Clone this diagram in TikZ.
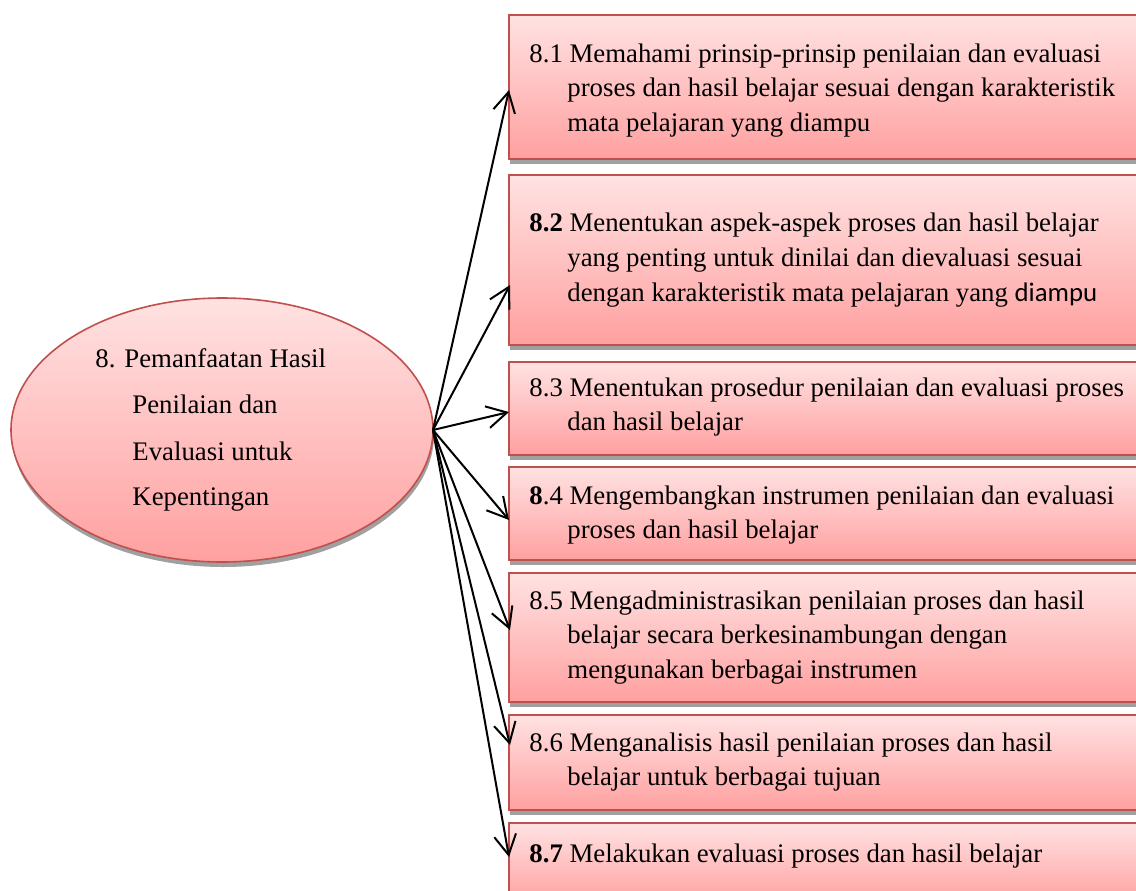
\documentclass[tikz,border=0pt]{standalone}
\usepackage{fontspec}
\setmainfont{Liberation Serif}
\newfontfamily\calib{Carlito}
\usetikzlibrary{shadows,arrows.meta,shapes.geometric}
\definecolor{bordc}{RGB}{192,80,77}
\definecolor{topc}{RGB}{255,226,226}
\definecolor{botc}{RGB}{255,160,160}
\definecolor{shc}{RGB}{160,160,160}
\tikzset{
  kbox/.style={rectangle, draw=bordc, line width=1pt, top color=topc, bottom color=botc,
    minimum width=320.5pt, inner sep=0pt,
    drop shadow={shadow xshift=0.5pt, shadow yshift=-2.5pt, fill=shc, opacity=1}},
  kell/.style={ellipse, draw=bordc, line width=0.8pt, top color=topc, bottom color=botc,
    minimum width=211pt, minimum height=132pt, inner sep=0pt,
    drop shadow={shadow xshift=0.5pt, shadow yshift=-2.5pt, fill=shc, opacity=1}},
  ln/.style={anchor=base west, inner sep=0pt, font=\fontsize{13.4}{16}\selectfont},
  arr/.style={line width=1pt, -{Straight Barb[length=10pt,width=11pt]}}
}
\newcommand\mkbox[3]{%
  \pgfmathsetmacro\kbh{(#3-#2)*0.5}%
  \pgfmathsetmacro\kbc{(#2+#3)/2}%
  \node[kbox, minimum height=\kbh pt] (#1) at (829.5,\kbc) {};%
}
\begin{document}
\begin{tikzpicture}[x=0.5pt,y=-0.5pt]
\useasboundingbox (0,0) rectangle (1136,890);
\clip (0,0) rectangle (1136,890);
% ellipse
\node[kell] (ell) at (222,430) {};
\node[ln] (e1) at (95,367) {8. Pemanfaatan Hasil};
\node[ln] (e2) at (132,413) {Penilaian dan};
\node[ln] (e3) at (132,460) {Evaluasi untuk};
\node[ln] (e4) at (132,505) {Kepentingan};
% boxes
\mkbox{b1}{15}{159}
\mkbox{b2}{175}{345}
\mkbox{b3}{362}{455}
\mkbox{b4}{467}{560}
\mkbox{b5}{573}{702}
\mkbox{b6}{715}{810}
\mkbox{b7}{823}{905}
% texts
\node[ln] (b1a) at (529,62) {8.1 Memahami prinsip-prinsip penilaian dan evaluasi};
\node[ln] (b1b) at (567,96.5) {proses dan hasil belajar sesuai dengan karakteristik};
\node[ln] (b1c) at (567,131) {mata pelajaran yang diampu};
\node[ln] (b2a) at (529,231) {\textbf{8.2} Menentukan aspek-aspek proses dan hasil belajar};
\node[ln] (b2b) at (567,266) {yang penting untuk dinilai dan dievaluasi sesuai};
\node[ln] (b2c) at (567,301) {dengan karakteristik mata pelajaran yang {\calib diampu}};
\node[ln] (b3a) at (529,396) {8.3 Menentukan prosedur penilaian dan evaluasi proses};
\node[ln] (b3b) at (567,430.5) {dan hasil belajar};
\node[ln] (b4a) at (529,504) {\textbf{8}.4 Mengembangkan instrumen penilaian dan evaluasi};
\node[ln] (b4b) at (567,538.5) {proses dan hasil belajar};
\node[ln] (b5a) at (529,609) {8.5 Mengadministrasikan penilaian proses dan hasil};
\node[ln] (b5b) at (567,643.5) {belajar secara berkesinambungan dengan};
\node[ln] (b5c) at (567,678) {mengunakan berbagai instrumen};
\node[ln] (b6a) at (529,751) {8.6 Menganalisis hasil penilaian proses dan hasil};
\node[ln] (b6b) at (567,785.5) {belajar untuk berbagai tujuan};
\node[ln] (b7a) at (529,862) {\textbf{8.7} Melakukan evaluasi proses dan hasil belajar};
% arrows
\coordinate (src) at (433,430);
\coordinate (t1) at (509,90);
\coordinate (t2) at (510,285);
\coordinate (t3) at (509,412);
\coordinate (t4) at (509,520);
\coordinate (t5) at (510,630);
\coordinate (t6) at (510,745);
\coordinate (t7) at (509,857);
\foreach \t in {t1,t2,t3,t4,t5,t6,t7}{\draw[arr] (src) -- (\t);}
\end{tikzpicture}
\end{document}
